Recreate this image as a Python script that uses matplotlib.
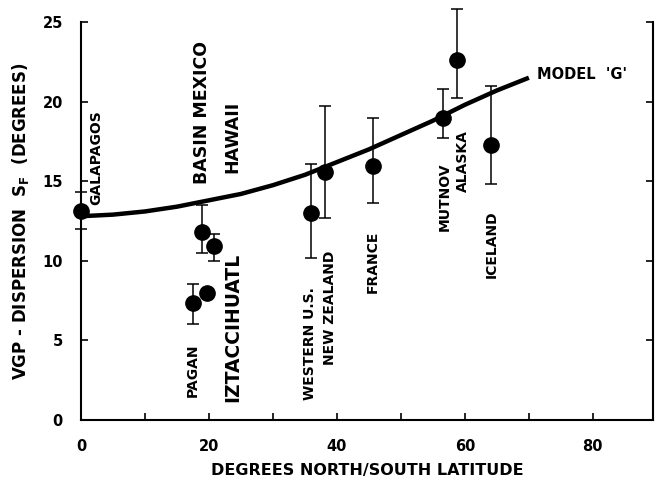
import matplotlib
matplotlib.use("Agg")
import matplotlib.pyplot as plt
import numpy as np

# ---- data ----
lat = [0.0, 17.5, 19.7, 18.9, 20.8, 36.0, 38.1, 45.6, 56.6, 58.8, 64.1]
disp = [13.1, 7.35, 8.0, 11.8, 10.9, 13.0, 15.6, 15.95, 18.95, 22.6, 17.3]
err_hi = [14.3, 8.55, 8.0, 13.5, 11.7, 16.1, 19.7, 19.0, 20.8, 25.8, 21.0]
err_lo = [12.0, 6.0, 8.0, 10.5, 10.0, 10.2, 12.7, 13.6, 17.7, 20.2, 14.8]

model_lat = [0, 5, 10, 15, 20, 25, 30, 35, 40, 45, 50, 55, 60, 65, 70]
model_disp = [12.8, 12.9, 13.1, 13.4, 13.8, 14.2, 14.75, 15.4, 16.2, 17.0,
              17.9, 18.8, 19.8, 20.7, 21.5]

labels = ["GALAPAGOS", "PAGAN", "WESTERN U.S.", "NEW ZEALAND", "FRANCE",
          "MUTNOV", "ALASKA", "ICELAND"]
label_x = [2.4, 17.5, 35.8, 38.9, 45.6, 56.9, 59.7, 64.2]
label_y = [13.5, 1.45, 1.26, 3.45, 8.0, 11.9, 14.3, 8.9]

hand_labels = ["BASIN MEXICO", "HAWAII", "IZTACCIHUATL"]
hand_x = [18.9, 23.6, 23.75]
hand_y = [14.8, 15.5, 1.13]
hand_size = [12.5, 12.5, 13.5]

xticks = [0, 20, 40, 60, 80]
yticks = [0, 5, 10, 15, 20, 25]

base = "DejaVu Sans"

fig = plt.figure(figsize=(6.57, 4.82), dpi=100)
ax = fig.add_axes([81/657, 1-420/482, (653-81)/657, (420-22)/482])

ax.plot(model_lat, model_disp, color="black", lw=3.2, solid_capstyle="butt", zorder=2)

lat_a = np.array(lat); d = np.array(disp)
yerr = np.vstack([d - np.array(err_lo), np.array(err_hi) - d])
eb = ax.errorbar(lat_a, d, yerr=yerr, fmt="o", color="black", ms=11,
                 ecolor="black", elinewidth=1.1, capsize=4.5, capthick=1.1, zorder=3)
eb[0].set_clip_on(False)
for c in eb[1]:
    c.set_clip_on(False)
for c in eb[2]:
    c.set_clip_on(False)

for t, x, y in zip(labels, label_x, label_y):
    ax.text(x, y, t, rotation=90, ha="center", va="bottom", fontsize=10,
            fontweight="bold", family=base, zorder=4)
for t, x, y, s in zip(hand_labels, hand_x, hand_y, hand_size):
    ax.text(x, y, t, rotation=90, ha="center", va="bottom", fontsize=s,
            fontweight="bold", family=base, zorder=4)

ax.text(71.3, 21.7, "MODEL  'G'", ha="left", va="center", fontsize=10.5,
        fontweight="bold", family=base)

ax.set_xlim(0, 89.4)
ax.set_ylim(0, 25)
ax.set_xticks(xticks)
ax.set_xticks(np.arange(0, 90, 10), minor=True)
ax.set_yticks(yticks)
ax.tick_params(axis="both", which="both", direction="in", length=5, width=1.2,
               labelsize=10.5)
ax.tick_params(axis="x", pad=14)
ax.tick_params(axis="y", right=True, pad=13)
for lab in ax.get_xticklabels() + ax.get_yticklabels():
    lab.set_fontweight("bold"); lab.set_family(base)
ax.spines["top"].set_visible(False)
for s in ["left", "bottom", "right"]:
    ax.spines[s].set_linewidth(1.5)

ax.set_xlabel("DEGREES NORTH/SOUTH LATITUDE", fontsize=11.5, fontweight="bold",
              family=base, labelpad=6)
ax.set_ylabel("VGP - DISPERSION  S$_\\mathregular{F}$  (DEGREES)", fontsize=12,
              fontweight="bold", family=base, labelpad=8)

fig.savefig("out.png", dpi=100)
